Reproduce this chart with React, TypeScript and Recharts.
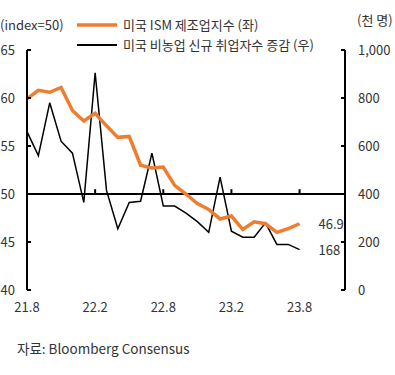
import { ComposedChart, Line, XAxis, YAxis, ReferenceLine, LabelList } from 'recharts';

const months = [
  '21.8', '21.9', '21.10', '21.11', '21.12',
  '22.1', '22.2', '22.3', '22.4', '22.5', '22.6', '22.7', '22.8', '22.9', '22.10', '22.11', '22.12',
  '23.1', '23.2', '23.3', '23.4', '23.5', '23.6', '23.7', '23.8',
];
const ismPmi = [
  59.9, 60.8, 60.6, 61.1, 58.7, 57.6, 58.4, 57.1, 55.9, 56.0, 53.0, 52.7, 52.8,
  50.9, 50.0, 49.0, 48.4, 47.4, 47.7, 46.3, 47.1, 46.9, 46.0, 46.4, 46.9,
];
const payrolls = [
  660, 560, 780, 620, 570, 365, 905, 415, 255, 365, 370, 570, 350,
  350, 320, 285, 240, 470, 245, 220, 220, 280, 190, 190, 168,
];
const xTicks = [0, 6, 12, 18, 24];
const leftTicks = [40, 45, 50, 55, 60, 65];
const rightTicks = [0, 200, 400, 600, 800, 1000];

const ORANGE = '#ED7D31';
const FONT = '"Noto Sans CJK KR", "Noto Sans", sans-serif';
const TEXT = '#333';

const data = months.map((m, i) => ({ idx: i, month: m, ism: ismPmi[i], nfp: payrolls[i] }));
const last = months.length - 1;

function LeftTick({ x, y, payload }: any) {
  return (
    <g>
      <line x1={x} x2={x + 4} y1={y} y2={y} stroke="#000" strokeWidth={2} />
      <text x={x - 12} y={y} dy={5} textAnchor="end" fontSize={13} fill={TEXT} fontFamily={FONT}>
        {payload.value}
      </text>
    </g>
  );
}

function RightTick({ x, y, payload }: any) {
  return (
    <g>
      <line x1={x - 4} x2={x} y1={y} y2={y} stroke="#000" strokeWidth={2} />
      <text x={x + 13} y={y} dy={5} textAnchor="start" fontSize={13} fill={TEXT} fontFamily={FONT}>
        {payload.value.toLocaleString('en-US')}
      </text>
    </g>
  );
}

function endLabel(fmt: (v: number) => string) {
  return (props: any) => {
    const { x, y, value, index } = props;
    if (index !== last) return null;
    return (
      <text x={x + 19} y={y} dy={5} fontSize={13} fill={TEXT} fontFamily={FONT}>
        {fmt(value)}
      </text>
    );
  };
}

function LegendBox() {
  const row = (color: string, w: number, label: string, top: number) => (
    <div style={{ position: 'absolute', left: 77, top, display: 'flex', alignItems: 'center' }}>
      <svg width={42} height={6}>
        <line x1={0} x2={40} y1={3} y2={3} stroke={color} strokeWidth={w} />
      </svg>
      <span style={{ marginLeft: 4, fontSize: 13, color: TEXT, fontFamily: FONT, whiteSpace: 'nowrap' }}>{label}</span>
    </div>
  );
  return (
    <>
      {row(ORANGE, 3.5, '미국 ISM 제조업지수 (좌)', 15)}
      {row('#000', 2, '미국 비농업 신규 취업자수 증감 (우)', 35)}
    </>
  );
}

export default function App() {
  return (
    <div style={{ position: 'absolute', left: 0, top: 0, width: 395, height: 375, background: '#fff', fontFamily: FONT }}>
      <div style={{ position: 'absolute', left: 0, top: 15, fontSize: 13, color: TEXT }}>(index=50)</div>
      <div style={{ position: 'absolute', left: 357, top: 10, fontSize: 13, color: TEXT }}>(천 명)</div>
      <LegendBox />
      <ComposedChart width={395} height={320} data={data} margin={{ top: 50, right: 0, left: 0, bottom: 0 }}>
        <XAxis
          dataKey="idx"
          type="number"
          domain={[0, 28]}
          ticks={xTicks}
          tickFormatter={(v: number) => months[v]}
          axisLine={false}
          tickLine={false}
          tickMargin={7}
          height={30}
          tick={{ fontSize: 13, fill: TEXT, fontFamily: FONT }}
        />
        <YAxis
          yAxisId="left"
          domain={[40, 65]}
          ticks={leftTicks}
          width={27}
          tickSize={0}
          tickMargin={0}
          tickLine={false}
          axisLine={{ stroke: '#000', strokeWidth: 2 }}
          tick={<LeftTick />}
        />
        <YAxis
          yAxisId="right"
          orientation="right"
          domain={[0, 1000]}
          ticks={rightTicks}
          width={50}
          tickSize={0}
          tickMargin={0}
          tickLine={false}
          axisLine={{ stroke: '#000', strokeWidth: 2 }}
          tick={<RightTick />}
        />
        <ReferenceLine yAxisId="left" y={50} stroke="#000" strokeWidth={2} />
        {xTicks.slice(1).map((t) => (
          <ReferenceLine
            key={t}
            yAxisId="left"
            segment={[{ x: t, y: 50 }, { x: t, y: 50.5 }]}
            stroke="#000"
            strokeWidth={2}
          />
        ))}
        <Line
          yAxisId="right"
          dataKey="nfp"
          stroke="#000"
          strokeWidth={1.5}
          dot={false}
          isAnimationActive={false}
        >
          <LabelList dataKey="nfp" content={endLabel((v) => String(v))} />
        </Line>
        <Line
          yAxisId="left"
          dataKey="ism"
          stroke={ORANGE}
          strokeWidth={3.5}
          dot={false}
          isAnimationActive={false}
        >
          <LabelList dataKey="ism" content={endLabel((v) => v.toFixed(1))} />
        </Line>
      </ComposedChart>
      <div style={{ position: 'absolute', left: 17, top: 338, fontSize: 13.5, color: TEXT }}>자료: Bloomberg Consensus</div>
    </div>
  );
}
